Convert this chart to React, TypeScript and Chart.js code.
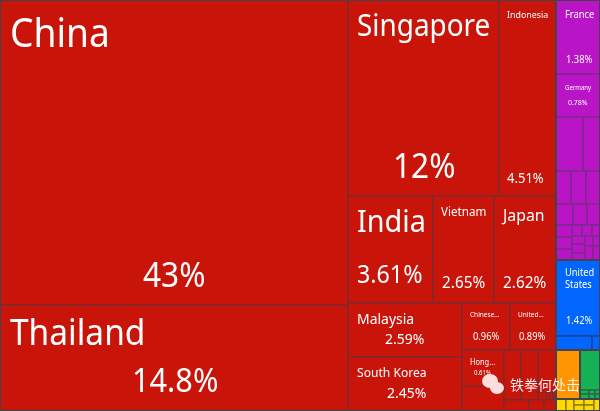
import React, { useEffect, useRef } from "react";
import { Chart, registerables } from "chart.js";

Chart.register(...registerables);

// Shares of total (percent).
const chinaThailand = [42.92, 14.92];
const singaporeIndonesia = [12.0, 4.53];
const indiaVietnamJapan = [3.69, 2.65, 2.69];
const malaysiaKorea = [2.52, 2.48];
const chineseUnited = [0.915, 0.877];
const hongPair = [0.6, 0.416];
const redSmallColumns = [0.345, 0.345];
const redSmallThird = [0.307];
const redTiny = [0.03, 0.01, 0.01, 0.01];
const redBottom = [0.1115, 0.067, 0.0535];

const franceGermany = [1.32, 0.75];
const purpleRow1 = [0.59, 0.372];
const purpleRow2 = [0.2, 0.2, 0.187];
const purpleRow3 = [0.145, 0.119, 0.11];
const purpleColA = [0.078, 0.078, 0.071];
const purpleTop = [0.045, 0.045, 0.036];
const purpleColB = [0.042, 0.047, 0.037];
const purpleColC = [0.032, 0.045];
const purpleColD = [0.028, 0.04];

const usShare = [1.338];
const blueRow = [0.204, 0.045];
const orangeShare = [0.477];
const greenMain = [0.324];
const greenSmall = [0.0165, 0.0165, 0.011, 0.011, 0.009, 0.009];
const yellowCols = [0.049, 0.039, 0.0245, 0.0245, 0.0245, 0.0245, 0.029];

const NAMES = ["China", "Thailand", "Singapore", "Indonesia", "India", "Vietnam", "Japan", "Malaysia", "South Korea", "Chinese...", "United...", "Hong...", "France", "Germany", "United\nStates"];
const PERCENTS = ["43%", "14.8%", "12%", "4.51%", "3.61%", "2.65%", "2.62%", "2.59%", "2.45%", "0.96%", "0.89%", "0.61%", "1.38%", "0.78%", "1.42%"];

const RED = "#c9140a", RED_LINE = "#7c2b2e";
const PURPLE = "#b914c6", PURPLE_LINE = "#7d2a8c";
const BLUE = "#0066ff", BLUE_LINE = "#22408c";
const ORANGE = "#ff9500", GREEN = "#16b055", GREEN_LINE = "#2a6b45";
const YELLOW = "#ffd900", YELLOW_LINE = "#8a7a20";
const FRAME = "#46424c";

type Node = { dir?: "h" | "v"; kids?: Node[]; v?: number; fill?: string; line?: string; name?: string; group?: boolean };
const leaf = (v: number, fill: string, line: string, name?: string): Node => ({ v, fill, line, name });
const H = (...kids: Node[]): Node => ({ dir: "h", kids });
const V = (...kids: Node[]): Node => ({ dir: "v", kids });
const G = (n: Node): Node => ({ ...n, group: true });
const r = (v: number, name?: string) => leaf(v, RED, RED_LINE, name);
const p = (v: number, name?: string) => leaf(v, PURPLE, PURPLE_LINE, name);
const b = (v: number, name?: string) => leaf(v, BLUE, BLUE_LINE, name);
const g = (v: number) => leaf(v, GREEN, GREEN_LINE);
const y = (v: number) => leaf(v, YELLOW, YELLOW_LINE);

const tree: Node = H(
  G(H(
    V(r(chinaThailand[0], "China"), r(chinaThailand[1], "Thailand")),
    V(
      H(r(singaporeIndonesia[0], "Singapore"), r(singaporeIndonesia[1], "Indonesia")),
      H(r(indiaVietnamJapan[0], "India"), r(indiaVietnamJapan[1], "Vietnam"), r(indiaVietnamJapan[2], "Japan")),
      H(
        V(r(malaysiaKorea[0], "Malaysia"), r(malaysiaKorea[1], "South Korea")),
        V(
          H(r(chineseUnited[0], "Chinese..."), r(chineseUnited[1], "United...")),
          H(
            V(r(hongPair[0], "Hong..."), r(hongPair[1])),
            V(
              H(
                r(redSmallColumns[0]),
                r(redSmallColumns[1]),
                V(r(redSmallThird[0]), H(...redTiny.map((t) => r(t))))
              ),
              H(...redBottom.map((t) => r(t)))
            )
          )
        )
      )
    )
  )),
  V(
    G(V(
      p(franceGermany[0], "France"),
      p(franceGermany[1], "Germany"),
      H(...purpleRow1.map((t) => p(t))),
      H(...purpleRow2.map((t) => p(t))),
      H(...purpleRow3.map((t) => p(t))),
      H(
        V(...purpleColA.map((t) => p(t))),
        V(
          H(...purpleTop.map((t) => p(t))),
          H(
            V(...purpleColB.map((t) => p(t))),
            V(...purpleColC.map((t) => p(t))),
            V(...purpleColD.map((t) => p(t)))
          )
        )
      )
    )),
    G(V(b(usShare[0], "United\nStates"), H(...blueRow.map((t) => b(t))))),
    H(
      G(leaf(orangeShare[0], ORANGE, ORANGE)),
      G(V(g(greenMain[0]), H(
        V(g(greenSmall[0]), g(greenSmall[1])),
        V(g(greenSmall[2]), g(greenSmall[3])),
        V(g(greenSmall[4]), g(greenSmall[5]))
      )))
    ),
    G(H(
      y(yellowCols[0]), y(yellowCols[1]),
      V(y(yellowCols[2]), y(yellowCols[3])),
      V(y(yellowCols[4]), y(yellowCols[5])),
      y(yellowCols[6])
    ))
  )
);

type Cell = { x: number; y: number; x0: number; x1: number; y0: number; y1: number; fill?: string; line?: string; name?: string };
const total = (n: Node): number => (n.kids ? n.kids.reduce((s, k) => s + total(k), 0) : n.v || 0);
const cells: Cell[] = [];
const groups: Cell[] = [];
function layout(n: Node, x0: number, x1: number, y0: number, y1: number) {
  const c: Cell = { x: (x0 + x1) / 2, y: (y0 + y1) / 2, x0, x1, y0, y1, fill: n.fill, line: n.line, name: n.name };
  if (n.group) groups.push(c);
  if (!n.kids) { cells.push(c); return; }
  const t = total(n);
  let pos = n.dir === "h" ? x0 : y0;
  for (const k of n.kids) {
    const span = (total(k) / t) * (n.dir === "h" ? x1 - x0 : y1 - y0);
    if (n.dir === "h") layout(k, pos, pos + span, y0, y1);
    else layout(k, x0, x1, pos, pos + span);
    pos += span;
  }
}
layout(tree, 0, 1, 0, 1);

// size/left/baseline of name, then size/left/baseline of percent, offsets from the cell's top-left corner
const LABEL_STYLE: Record<string, number[]> = {
  China: [40, 10, 47, 34, 143, 287],
  Thailand: [36, 10, 40, 33, 132, 87],
  Singapore: [30, 9, 36, 34, 45, 178],
  Indonesia: [9.5, 8, 18, 14, 8, 183],
  India: [31, 9, 36, 25, 9, 87],
  Vietnam: [12.5, 8, 20, 16.5, 9, 92],
  Japan: [17, 9, 25, 16.5, 9, 92],
  Malaysia: [15, 9, 21, 15, 37, 41],
  "South Korea": [13, 9, 20, 15, 39, 41],
  "Chinese...": [7, 8, 14, 10, 11, 37],
  "United...": [7, 8, 14, 10, 9, 37],
  "Hong...": [8, 8, 15, 6.5, 12, 25],
  France: [10, 9, 18, 10, 10, 63],
  Germany: [6.5, 9, 16, 7.5, 12, 31],
  "United\nStates": [10, 9, 16, 10, 10, 64],
};
const FONT = '"Noto Sans", sans-serif';
const NARROW = 0.93;

const treemapPlugin = {
  id: "treemap",
  afterDatasetsDraw(chart: any) {
    const { ctx, scales } = chart;
    const px = (c: Cell) => {
      const l = Math.round(scales.x.getPixelForValue(c.x0));
      const ri = Math.round(scales.x.getPixelForValue(c.x1));
      const t = Math.round(scales.y.getPixelForValue(c.y0));
      const bo = Math.round(scales.y.getPixelForValue(c.y1));
      return { l, ri, t, bo };
    };
    const text = (s: string, x: number, yy: number) => {
      ctx.save();
      ctx.translate(x, yy);
      ctx.scale(NARROW, 1);
      ctx.fillText(s, 0, 0);
      ctx.restore();
    };
    ctx.save();
    const data = chart.data.datasets[0].data as Cell[];
    for (const c of data) {
      const { l, ri, t, bo } = px(c);
      ctx.fillStyle = c.fill;
      ctx.fillRect(l, t, ri - l, bo - t);
      ctx.strokeStyle = c.line;
      ctx.lineWidth = 1.4;
      ctx.strokeRect(l, t, ri - l, bo - t);
    }
    ctx.strokeStyle = FRAME;
    ctx.lineWidth = 2;
    for (const c of groups) {
      const { l, ri, t, bo } = px(c);
      ctx.strokeRect(l, t, ri - l, bo - t);
    }
    ctx.strokeRect(0, 0, chart.width, chart.height);

    ctx.fillStyle = "#ffffff";
    ctx.textAlign = "left";
    ctx.textBaseline = "alphabetic";
    for (const c of data) {
      if (!c.name) continue;
      const s = LABEL_STYLE[c.name];
      const { l, t } = px(c);
      ctx.font = `${s[0]}px ${FONT}`;
      c.name.split("\n").forEach((line, i) => text(line, l + s[1], t + s[2] + i * s[0] * 1.2));
      ctx.font = `${s[3]}px ${FONT}`;
      text(PERCENTS[NAMES.indexOf(c.name)], l + s[4], t + s[5]);
    }

    // watermark
    ctx.fillStyle = "rgba(255,240,240,0.92)";
    ctx.beginPath();
    ctx.ellipse(490, 381, 8, 7, 0, 0, Math.PI * 2);
    ctx.ellipse(497, 388, 7, 6, 0, 0, Math.PI * 2);
    ctx.fill();
    ctx.font = '14px "Noto Sans CJK SC"';
    ctx.fillStyle = "rgba(255,255,255,0.9)";
    ctx.fillText("铁拳何处击", 510, 390);
    ctx.restore();
  },
};

export default function App() {
  const ref = useRef<HTMLCanvasElement>(null);
  useEffect(() => {
    document.body.style.margin = "0";
    const chart = new Chart(ref.current!, {
      type: "scatter",
      data: { datasets: [{ data: cells as any, pointRadius: 0, pointHoverRadius: 0 }] },
      options: {
        responsive: false,
        animation: false,
        layout: { padding: 0 },
        plugins: { legend: { display: false }, tooltip: { enabled: false } },
        scales: {
          x: { type: "linear", min: 0, max: 1, display: false },
          y: { type: "linear", min: 0, max: 1, reverse: true, display: false },
        },
      },
      plugins: [treemapPlugin],
    });
    return () => chart.destroy();
  }, []);
  return <canvas ref={ref} width={600} height={411} style={{ display: "block" }} />;
}
